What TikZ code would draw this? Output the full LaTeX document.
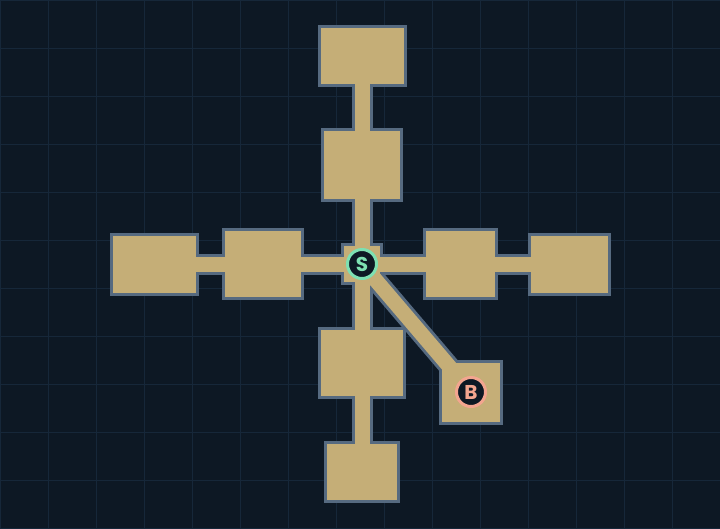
\documentclass[tikz,border=0pt]{standalone}
\usepackage{fontspec}
\setsansfont{Poppins}
\usetikzlibrary{shapes}
\definecolor{night}{HTML}{0D1824}
\definecolor{gridblue}{HTML}{162739}
\definecolor{sand}{HTML}{C5AE77}
\definecolor{rim}{HTML}{566A80}
\definecolor{mint}{HTML}{7DE0B2}
\definecolor{salmon}{HTML}{F3A58F}
\pgfdeclarelayer{background}
\pgfsetlayers{background,main}
\tikzstyle{room} = [rectangle, draw=rim, fill=sand, line width=3pt, inner sep=0pt, node distance=109pt]
\tikzstyle{hallrim} = [draw=rim, line width=21pt]
\tikzstyle{hall} = [draw=sand, line width=15pt]
\tikzstyle{marker} = [circle, fill=night, line width=3pt, minimum size=29pt, inner sep=0pt, font=\sffamily\bfseries\fontsize{20}{20}\selectfont]

\begin{document}
\begin{tikzpicture}[x=1pt, y=-1pt]
		\useasboundingbox (0,0) rectangle (720,528);
		\node [room, minimum width=39pt, minimum height=39pt] at (362,264) (hub) {};
		\node [room, above of=hub, node distance=99pt, minimum width=79pt, minimum height=71pt] (north) {};
		\node [room, above of=north, minimum width=86pt, minimum height=59pt] (northend) {};
		\node [room, left of=hub, node distance=99pt, minimum width=79pt, minimum height=69pt] (west) {};
		\node [room, left of=west, minimum width=86pt, minimum height=60pt] (westend) {};
		\node [room, right of=hub, node distance=98.5pt, minimum width=72pt, minimum height=69pt] (east) {};
		\node [room, right of=east, minimum width=80pt, minimum height=60pt] (eastend) {};
		\node [room, below of=hub, node distance=99pt, minimum width=85pt, minimum height=69pt] (south) {};
		\node [room, below of=south, minimum width=73pt, minimum height=59pt] (southend) {};
		\node [room, right of=hub, yshift=-128pt, minimum width=61pt, minimum height=62pt] (boss) {};

		\begin{pgfonlayer}{background}
			\fill [night] (0,0) rectangle (720,528);
			\foreach \gx in {0,48,...,720}
				\draw [gridblue, line width=1pt] (\gx,0) -- (\gx,528);
			\foreach \gy in {0,48,...,528}
				\draw [gridblue, line width=1pt] (0,\gy) -- (720,\gy);
			\path [hallrim] (northend) -- (north);
			\path [hallrim] (north) -- (hub);
			\path [hallrim] (westend) -- (west);
			\path [hallrim] (west) -- (hub);
			\path [hallrim] (eastend) -- (east);
			\path [hallrim] (east) -- (hub);
			\path [hallrim] (southend) -- (south);
			\path [hallrim] (south) -- (hub);
			\path [hallrim] (hub.center) -- (boss.center);
		\end{pgfonlayer}

		\path [hall] (northend.center) -- (north.center);
		\path [hall] (north.center) -- (hub.center);
		\path [hall] (westend.center) -- (west.center);
		\path [hall] (west.center) -- (hub.center);
		\path [hall] (eastend.center) -- (east.center);
		\path [hall] (east.center) -- (hub.center);
		\path [hall] (southend.center) -- (south.center);
		\path [hall] (south.center) -- (hub.center);
		\path [hall] (hub.center) -- (boss.center);

		\node [marker, draw=mint, text=mint] at (hub) (start) {S};
		\node [marker, draw=salmon, text=salmon] at (boss) (bossmark) {B};
	\end{tikzpicture}
\end{document}
